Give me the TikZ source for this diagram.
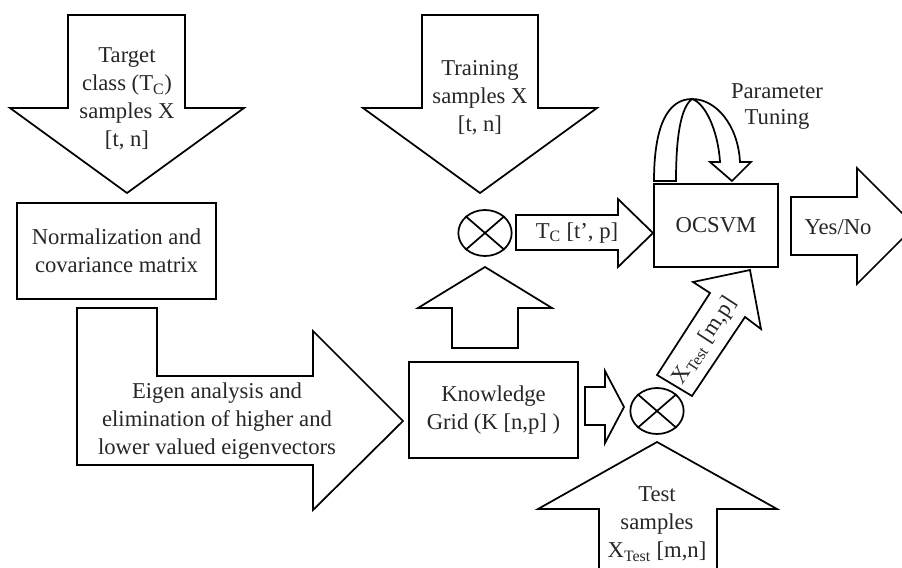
\documentclass[tikz,border=0pt]{standalone}
\usepackage{fontspec}
\setmainfont{Liberation Serif}
\usetikzlibrary{shapes.geometric}

\begin{document}
\begin{tikzpicture}[x=0.75pt, y=-0.75pt, line width=1.3pt, line join=miter,
  font=\fontsize{17}{21}\selectfont, text=black!85,
  box/.style={draw, rectangle, inner sep=0pt},
  xor/.style={draw, ellipse, minimum width=40pt, minimum height=34.5pt, inner sep=0pt},
  lbl/.style={align=center, inner sep=0pt}]

\useasboundingbox (0,0) rectangle (902,567);
\clip (0,0) rectangle (902,567);

\node[box, minimum width=149.25pt, minimum height=72pt] (N) at (116.5,251) {};
\node[box, minimum width=126.75pt, minimum height=72pt] (K) at (493.5,410) {};
\node[box, minimum width=93pt, minimum height=62.25pt] (S) at (716,225.5) {};
\node[xor] (M1) at (485,233) {};
\node[xor] (M2) at (657,411) {};
\draw (M1.north west) -- (M1.south east) (M1.north east) -- (M1.south west);
\draw (M2.north west) -- (M2.south east) (M2.north east) -- (M2.south west);

\draw (68,15) -- (185,15) -- (185,108) -- (244,108) -- (127,193) -- (10,108) -- (68,108) -- cycle;
\draw (422,15) -- (538,15) -- (538,108) -- (597,108) -- (480,193) -- (363,108) -- (422,108) -- cycle;
\draw (77,308) -- (157,308) -- (157,376) -- (313,376) -- (313,331) -- (403,421) -- (313,510) -- (313,465) -- (77,465) -- cycle;
\draw (452,348) -- (518,348) -- (518,308) -- (552,308) -- (485,267) -- (418,308) -- (452,308) -- cycle;
\draw (516,215) -- (618,215) -- (618,199) -- (653,233) -- (618,267) -- (618,250) -- (516,250) -- cycle;
\draw (791,197) -- (857,197) -- (857,168) -- (915,226) -- (857,284) -- (857,255) -- (791,255) -- cycle;
\draw (585,387) -- (605,387) -- (605,371) -- (624,407) -- (605,443) -- (605,425) -- (585,425) -- cycle;
\draw (599,590) -- (599,509) -- (538,509) -- (657,442) -- (777,509) -- (717,509) -- (717,590);
\draw (657,375) -- (710,293) -- (693,282) -- (750,270) -- (761,329) -- (745,317) -- (692,396) -- cycle;
% parameter tuning loop
\draw (654,181) .. controls (654,125) and (668,99) .. (692,99)
  .. controls (716,99) and (738,125) .. (740,162) -- (751,162) -- (732,181) -- (710,162) -- (720,162)
  .. controls (718,130) and (705,103) .. (692,99)
  .. controls (680,108) and (676,140) .. (676,181) -- cycle;

\node[lbl] (TC) at (127,99) {Target\\class (T\textsubscript{C})\\samples X\\{}[t, n]};
\node[lbl] at (N) {Normalization and\\covariance matrix};
\node[lbl] (TR) at (480,98) {Training\\samples X\\{}[t, n]};
\node[lbl] (E) at (217,421) {Eigen analysis and\\elimination of higher and\\lower valued eigenvectors};
\node[lbl] at (K) {Knowledge\\Grid (K [n,p] )};
\node[lbl] (L1) at (577,233) {T\textsubscript{C} [t’, p]};
\node[lbl] at (S) {OCSVM};
\node[lbl] (YN) at (838,227) {Yes/No};
\node[lbl, font=\fontsize{17}{19.5}\selectfont] (PT) at (777,107) {Parameter\\Tuning};
\node[lbl] (TS) at (657,524) {Test\\samples\\X\textsubscript{Test} [m,n]};
\node[lbl, rotate=57] (L2) at (705,341) {X\textsubscript{Test} [m,p]};

\end{tikzpicture}
\end{document}
